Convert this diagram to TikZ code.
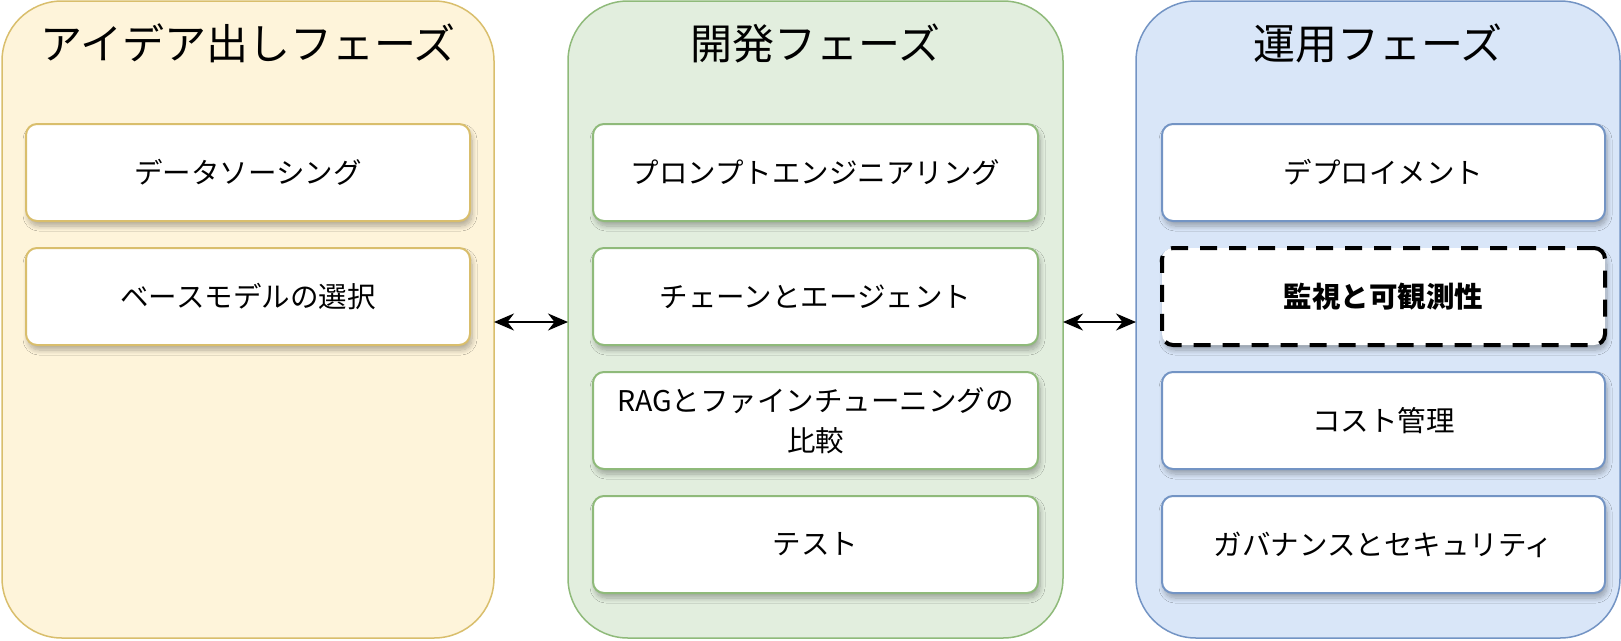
\documentclass[tikz,border=0pt]{standalone}
\usepackage{fontspec}
\setmainfont{Noto Sans CJK JP}
\usetikzlibrary{positioning, arrows.meta, shadows.blur}

\definecolor{ideafill}{HTML}{FEF4DA}
\definecolor{ideadraw}{HTML}{D9BE6C}
\definecolor{devfill}{HTML}{E2EEDE}
\definecolor{devdraw}{HTML}{8FBA7A}
\definecolor{opsfill}{HTML}{D9E6F8}
\definecolor{opsdraw}{HTML}{7394C4}

\tikzset{
    phase/.style={draw, line width=1.5pt, rounded corners=60pt, minimum height=637pt, outer sep=0pt},
    phasetitle/.style={font=\fontsize{42}{48}\selectfont},
    taskbox/.style={draw, fill=white, line width=2pt, rounded corners=11pt, minimum width=444pt, minimum height=97pt,
        align=center, outer sep=0pt, font=\fontsize{28.5}{40}\selectfont,
        blur shadow={shadow xshift=2pt, shadow yshift=-5pt, shadow blur steps=8, shadow blur radius=5pt, shadow opacity=30}},
    link/.style={{Stealth[length=20pt, width=17pt]}-{Stealth[length=20pt, width=17pt]}, line width=2pt}
}

\begin{document}
\begin{tikzpicture}[x=1pt, y=-1pt]
    \useasboundingbox (0, 0) rectangle (1621, 640);
    % phases
    \node (idea) [phase, fill=ideafill, draw=ideadraw, minimum width=492pt] at (248, 319.5) {};
    \node (dev) [phase, fill=devfill, draw=devdraw, minimum width=495pt] at (815.5, 319.5) {};
    \node (ops) [phase, fill=opsfill, draw=opsdraw, minimum width=484pt] at (1378, 319.5) {};
    \node [phasetitle] at (248, 43) {アイデア出しフェーズ};
    \node [phasetitle] at (815.5, 43) {開発フェーズ};
    \node [phasetitle] at (1378, 43) {運用フェーズ};

    % idea phase
    \node (sourcing) [taskbox, draw=ideadraw] at (248, 172.5) {データソーシング};
    \node (basemodel) [taskbox, draw=ideadraw, below=27pt of sourcing] {ベースモデルの選択};

    % development phase
    \node (prompt) [taskbox, draw=devdraw, minimum width=445pt] at (815.5, 172.5) {プロンプトエンジニアリング};
    \node (chain) [taskbox, draw=devdraw, minimum width=445pt, below=27pt of prompt] {チェーンとエージェント};
    \node (rag) [taskbox, draw=devdraw, minimum width=445pt, below=27pt of chain] {RAGとファインチューニングの\\比較};
    \node (test) [taskbox, draw=devdraw, minimum width=445pt, below=27pt of rag] {テスト};

    % operation phase
    \node (deploy) [taskbox, draw=opsdraw, minimum width=443pt] at (1383.5, 172.5) {デプロイメント};
    \node (monitor) [taskbox, draw=black, line width=4pt, dash pattern=on 17pt off 12pt, minimum width=443pt,
        font=\fontsize{28.5}{40}\selectfont\bfseries, below=27pt of deploy] {監視と可観測性};
    \node (cost) [taskbox, draw=opsdraw, minimum width=443pt, below=27pt of monitor] {コスト管理};
    \node (govern) [taskbox, draw=opsdraw, minimum width=443pt, below=27pt of cost] {ガバナンスとセキュリティ};

    \draw [link] (idea.east |- 0, 322) -- (dev.west |- 0, 322);
    \draw [link] (dev.east |- 0, 322) -- (ops.west |- 0, 322);
\end{tikzpicture}
\end{document}
